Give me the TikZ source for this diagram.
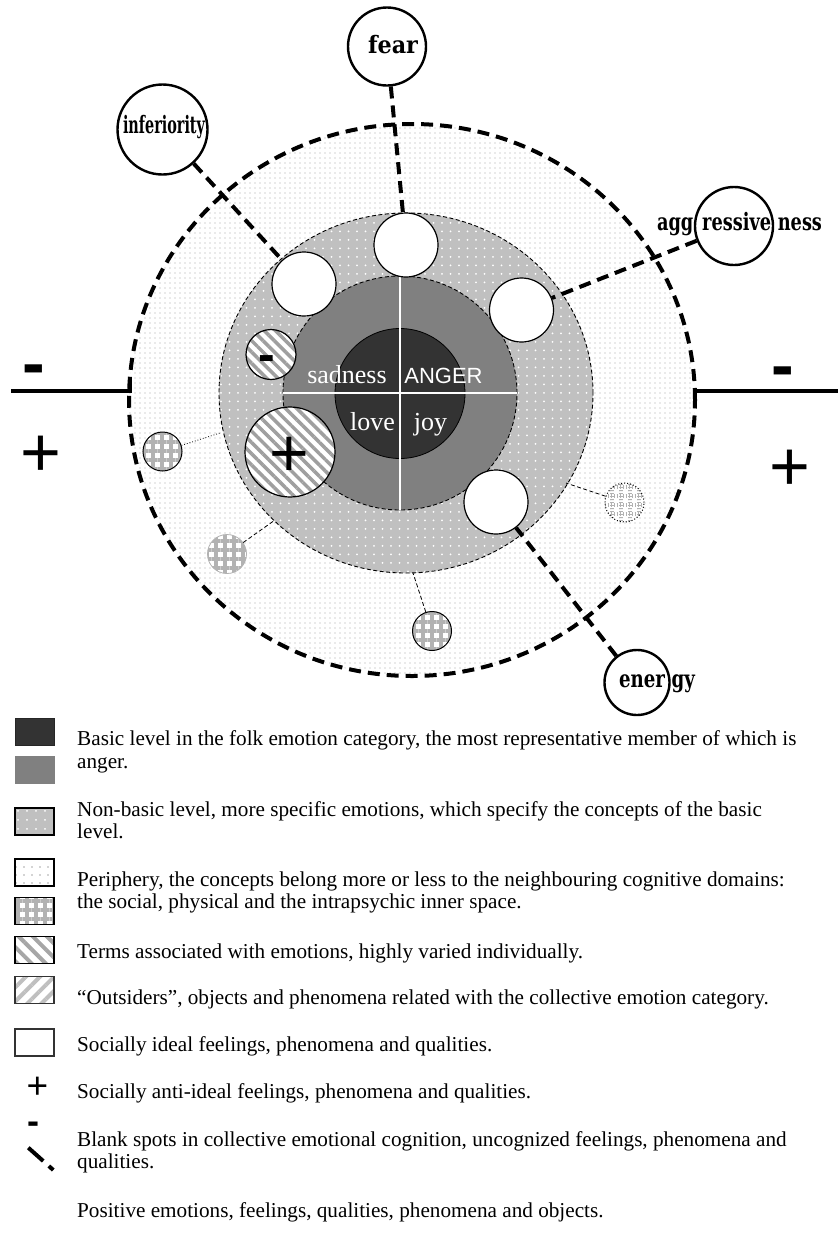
\documentclass[tikz,border=0pt]{standalone}
\usepackage{fontspec}
\usepackage{graphicx}
\setmainfont{Liberation Serif}
\newfontfamily\sansf{Liberation Sans}
\newfontfamily\labf{DejaVu Serif}
\usetikzlibrary{patterns.meta}
\definecolor{darkc}{HTML}{333333}
\definecolor{midc}{HTML}{808080}
\definecolor{nbc}{HTML}{C0C0C0}
\definecolor{dotc}{HTML}{A8A8A8}
\begin{document}
\begin{tikzpicture}[x=1pt,y=-1pt,
  thickdash/.style={line width=4pt, dash pattern=on 12pt off 7pt},
  thindash/.style={line width=0.9pt, dash pattern=on 4pt off 2.5pt},
  wcirc/.style={circle, draw=black, line width=1.2pt, fill=white, minimum size=64pt, inner sep=0pt},
  labcirc/.style={circle, draw=black, line width=2.4pt, fill=white, inner sep=0pt},
  hatchc/.style={circle, draw=black, line width=1.2pt, inner sep=0pt, preaction={fill=white},
     pattern={Lines[angle=-45,distance=8pt,line width=3.5pt]}, pattern color=gray!75},
  checkc/.style={circle, inner sep=0pt, minimum size=39pt, preaction={fill=white},
     pattern={Hatch[angle=0,distance=9pt,line width=4.3pt]}, pattern color=gray!60},
  legtxt/.style={anchor=base west, inner sep=0pt, font=\fontsize{21.2}{22}\selectfont},
  sign/.style={anchor=base, inner sep=0pt},
  ctxt/.style={anchor=base, inner sep=0pt, text=white},
  labtxt/.style={anchor=base, inner sep=0pt, font=\labf\bfseries\fontsize{24}{24}\selectfont},
  swatch/.style={rectangle, minimum width=39pt, minimum height=27pt, inner sep=0pt, line width=1.2pt},
]
\useasboundingbox (0,0) rectangle (838,1243);
\path[fill=white] (0,0) rectangle (838,1243);

% periphery
\path[fill=white] (412,400) ellipse [x radius=283pt, y radius=276pt];
\path[pattern={Dots[distance=5pt,radius=0.7pt]}, pattern color=dotc] (412,400) ellipse [x radius=283pt, y radius=276pt];
% non-basic level
\path[fill=nbc] (406,393) ellipse [x radius=187pt, y radius=180pt];
\path[pattern={Dots[distance=8.5pt,radius=1pt]}, pattern color=white] (406,393) ellipse [x radius=187pt, y radius=180pt];
\draw[thindash] (406,393) ellipse [x radius=187pt, y radius=180pt];
% middle and basic level
\draw[thindash, fill=midc] (400,393) circle [radius=117pt];
\draw[line width=0.8pt, fill=darkc] (400,393.5) circle [radius=65pt];
\draw[white, line width=2.5pt] (400,276) -- (400,510) (283,393) -- (517,393);
% outer border
\draw[thickdash] (412,400) ellipse [x radius=283pt, y radius=276pt];

% horizontal axis lines
\coordinate (hL1) at (11,391);
\coordinate (hL2) at (130,391);
\coordinate (hL3) at (130,380);
\coordinate (hR1) at (838,391);
\coordinate (hR2) at (695,391);
\draw[line width=4pt] (hL1) -- (hL2) -- (hL3);
\draw[line width=4pt] (hR1) -- (hR2);

% signs outside
\node[sign, font=\sansf\bfseries\fontsize{68}{68}\selectfont] (minusL) at (34,386) {-};
\node[sign, font=\sansf\fontsize{70}{70}\selectfont] (plusL) at (41,476) {+};
\node[sign, font=\sansf\bfseries\fontsize{68}{68}\selectfont] (minusR) at (782.5,388) {-};
\node[sign, font=\sansf\fontsize{70}{70}\selectfont] (plusR) at (790,490) {+};

% centre texts
\node[ctxt, font=\fontsize{26}{26}\selectfont] (sadT) at (347,383) {sadness};
\node[ctxt, font=\sansf\fontsize{22}{22}\selectfont] (angT) at (443.5,383) {ANGER};
\node[ctxt, font=\fontsize{26}{26}\selectfont] (loveT) at (372.5,430) {love};
\node[ctxt, font=\fontsize{26}{26}\selectfont] (joyT) at (430.5,430) {joy};

% checkered circles and their thin connectors
\coordinate (cL) at (220,433);
\coordinate (cLL) at (275,520);
\coordinate (cB) at (413,573);
\coordinate (cR) at (566,483);
\node[checkc, draw=black, line width=1pt] (ckL) at (162.5,451.5) {};
\node[checkc, draw=gray!60, line width=0.8pt] (ckLL) at (227,554) {};
\node[checkc, draw=black, line width=1pt] (ckB) at (432,631) {};
\node[checkc, draw=black, line width=1pt, dotted] (ckR) at (624.5,502.5) {};
\draw[line width=0.8pt, dotted] (ckL) -- (cL);
\draw[line width=0.8pt, dash pattern=on 4pt off 2.5pt] (ckLL) -- (cLL);
\draw[line width=0.8pt, dash pattern=on 4pt off 2.5pt] (ckB) -- (cB);
\draw[line width=0.8pt, dash pattern=on 4pt off 2.5pt] (ckR) -- (cR);

% socially ideal circles
\node[wcirc] (w1) at (406,245) {};
\node[wcirc] (w2) at (304,284) {};
\node[wcirc] (w3) at (521.5,310) {};
\node[wcirc] (w4) at (496,502) {};

% hatched circles
\node[hatchc, minimum size=50pt] (hm) at (271,354.5) {};
\node[hatchc, minimum size=90pt] (hp) at (290,452) {};
\node[sign, font=\sansf\bfseries\fontsize{50}{50}\selectfont] (minusIn) at (266.5,371) {-};
\node[sign, font=\sansf\fontsize{68}{68}\selectfont] (plusIn) at (289.5,476) {+};

% blank spots
\node[labcirc, minimum size=78pt] (fear) at (387,46.5) {};
\node[labcirc, minimum size=90pt] (inf) at (162.5,129.5) {};
\node[labcirc, minimum size=78pt] (agg) at (734,226) {};
\node[labcirc, minimum size=65pt] (ener) at (637,682.5) {};
\draw[thickdash] (fear) -- (w1);
\draw[thickdash] (inf) -- (w2);
\draw[thickdash] (agg) -- (w3);
\draw[thickdash] (ener) -- (w4);
\node[labtxt] (fearT) at (393,53) {\resizebox{50pt}{\height}{fear}};
\node[labtxt] (infT) at (164,133) {\resizebox{82pt}{\height}{inferiority}};
\node[labtxt] (aggT) at (739.5,230) {\resizebox{165pt}{\height}{agg\kern12pt ressive\kern9pt ness}};
\node[labtxt] (enerT) at (657,687) {\resizebox{76pt}{\height}{ener\kern9pt gy}};

% legend swatches
\node[swatch, fill=darkc, draw=black!85, line width=0.8pt] (sw1) at (34.5,731.5) {};
\node[swatch, fill=midc, draw=midc, line width=0.5pt] (sw2) at (34.5,770) {};
\node[swatch, draw=black, preaction={fill=nbc}, pattern={Dots[distance=9pt,radius=1pt]}, pattern color=white] (sw3) at (34.5,821.5) {};
\node[swatch, draw=black, preaction={fill=white}, pattern={Dots[distance=8pt,radius=0.8pt]}, pattern color=dotc] (sw4) at (34.5,872.5) {};
\node[swatch, draw=black, preaction={fill=white}, pattern={Hatch[angle=0,distance=9pt,line width=4.3pt]}, pattern color=gray!60] (sw5) at (34.5,911) {};
\node[swatch, draw=black, preaction={fill=white}, pattern={Lines[angle=-45,distance=10pt,line width=4pt]}, pattern color=gray!70] (sw6) at (34.5,950) {};
\node[swatch, draw=black!80, preaction={fill=white}, pattern={Lines[angle=45,distance=10pt,line width=4pt]}, pattern color=gray!50] (sw7) at (34.5,990) {};
\node[swatch, draw=black!80, fill=white] (sw8) at (34.5,1042.5) {};
\node[sign, font=\sansf\fontsize{37}{37}\selectfont] (plusLeg) at (37.5,1098.7) {+};
\node[sign, font=\sansf\bfseries\fontsize{36}{36}\selectfont] (minusLeg) at (33.8,1133.5) {-};
\coordinate (bsA) at (28.3,1147.7);
\coordinate (bsB) at (53.3,1170);
\draw[line width=4pt, dash pattern=on 20pt off 7.5pt] (bsA) -- (bsB);

% legend texts
\node[legtxt] (L1a) at (77,745) {Basic level in the folk emotion category, the most representative member of which is};
\node[legtxt] (L1b) at (77,768) {anger.};
\node[legtxt] (L2a) at (77,816) {Non-basic level, more specific emotions, which specify the concepts of the basic};
\node[legtxt] (L2b) at (77,838) {level.};
\node[legtxt] (L3a) at (77,886) {Periphery, the concepts belong more or less to the neighbouring cognitive domains:};
\node[legtxt] (L3b) at (77,908) {the social, physical and the intrapsychic inner space.};
\node[legtxt] (L4) at (77,958) {Terms associated with emotions, highly varied individually.};
\node[legtxt] (L5) at (77,1004) {“Outsiders”, objects and phenomena related with the collective emotion category.};
\node[legtxt] (L6) at (77,1051) {Socially ideal feelings, phenomena and qualities.};
\node[legtxt] (L7) at (77,1098) {Socially anti-ideal feelings, phenomena and qualities.};
\node[legtxt] (L8a) at (77,1146) {Blank spots in collective emotional cognition, uncognized feelings, phenomena and};
\node[legtxt] (L8b) at (77,1168) {qualities.};
\node[legtxt] (L9) at (77,1217) {Positive emotions, feelings, qualities, phenomena and objects.};
\end{tikzpicture}
\end{document}
